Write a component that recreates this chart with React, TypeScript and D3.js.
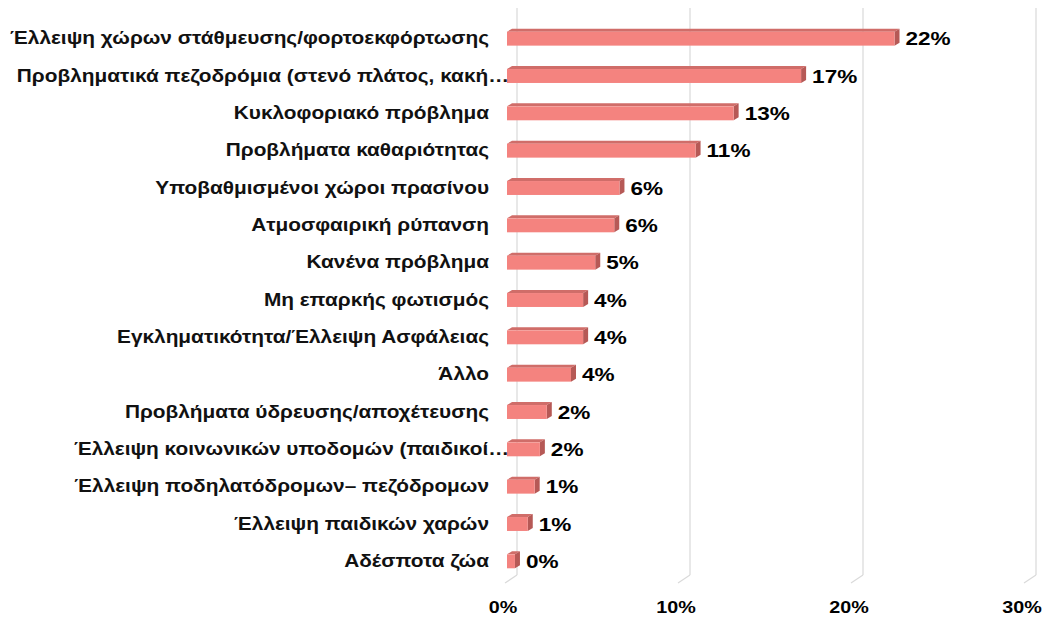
import * as d3 from "d3";

const categories = [
  "Έλλειψη χώρων στάθμευσης/φορτοεκφόρτωσης",
  "Προβληματικά πεζοδρόμια (στενό πλάτος, κακή…",
  "Κυκλοφοριακό πρόβλημα",
  "Προβλήματα καθαριότητας",
  "Υποβαθμισμένοι χώροι πρασίνου",
  "Ατμοσφαιρική ρύπανση",
  "Κανένα πρόβλημα",
  "Μη επαρκής φωτισμός",
  "Εγκληματικότητα/Έλλειψη Ασφάλειας",
  "Άλλο",
  "Προβλήματα ύδρευσης/αποχέτευσης",
  "Έλλειψη κοινωνικών υποδομών (παιδικοί…",
  "Έλλειψη ποδηλατόδρομων– πεζόδρομων",
  "Έλλειψη παιδικών χαρών",
  "Αδέσποτα ζώα",
];

const values = [0.224, 0.17, 0.131, 0.109, 0.065, 0.062, 0.051, 0.044, 0.044, 0.037, 0.023, 0.019, 0.016, 0.012, 0.0046];
const valueLabels = ["22%", "17%", "13%", "11%", "6%", "6%", "5%", "4%", "4%", "4%", "2%", "2%", "1%", "1%", "0%"];
const tickValues = [0, 0.1, 0.2, 0.3];
const tickLabels = ["0%", "10%", "20%", "30%"];

const WIDTH = 1044;
const HEIGHT = 618;
const FONT = "'Liberation Sans', Arial, sans-serif";

const FRONT = "#f4837f";
const TOP = "#d06d69";
const SIDE = "#b65956";
const GRID = "#d9d9d9";

const App = () => {
  const xScale = d3.scaleLinear().domain([0, 0.3]).range([507, 1026]);
  const yScale = d3
    .scaleBand<string>()
    .domain(categories)
    .range([19.5, 579.5])
    .paddingInner(0.6)
    .paddingOuter(0.3);

  const bw = yScale.bandwidth();
  const depthX = 5;
  const depthY = 3;
  const wallX = 10;
  const floorY = 575;

  return (
    <svg
      width={WIDTH}
      height={HEIGHT}
      style={{ position: "absolute", left: 0, top: 0, background: "white" }}
      fontFamily={FONT}
    >
      {tickValues.map((t) => {
        const gx = xScale(t) + wallX;
        return (
          <g key={`grid-${t}`}>
            <line x1={gx} x2={gx} y1={8} y2={floorY} stroke={GRID} strokeWidth={1.2} />
            <line x1={gx} x2={gx - 12} y1={floorY} y2={floorY + 8} stroke={GRID} strokeWidth={1.2} />
          </g>
        );
      })}

      {categories.map((c, i) => {
        const y = (yScale(c) ?? 0) + 1;
        const x0 = xScale(0);
        const x1 = xScale(values[i]);
        const h = bw - 1;
        return (
          <g key={c}>
            <polygon
              points={`${x0},${y} ${x0 + depthX},${y - depthY} ${x1 + depthX},${y - depthY} ${x1},${y}`}
              fill={TOP}
            />
            <polygon
              points={`${x1},${y} ${x1 + depthX},${y - depthY} ${x1 + depthX},${y + h - depthY} ${x1},${y + h}`}
              fill={SIDE}
            />
            <rect x={x0} y={y} width={Math.max(0, x1 - x0)} height={h} fill={FRONT} />
          </g>
        );
      })}

      {categories.map((c, i) => {
        const cy = (yScale(c) ?? 0) + bw / 2;
        const truncated = c.endsWith("…");
        const lx = truncated ? 509 : 489;
        return (
          <g key={`lab-${c}`}>
            <text
              transform={`translate(${lx},${cy + 6}) scale(1.19,1)`}
              textAnchor="end"
              fontSize={17.5}
              fontWeight="bold"
              fill="#111"
            >
              {c}
            </text>
            <text
              transform={`translate(${xScale(values[i]) + 11},${cy + 7}) scale(1.22,1)`}
              fontSize={18.5}
              fontWeight="bold"
              fill="#000"
            >
              {valueLabels[i]}
            </text>
          </g>
        );
      })}

      {tickValues.map((t, i) => (
        <text
          key={`tick-${t}`}
          transform={`translate(${xScale(t) - 4},${613}) scale(1.16,1)`}
          textAnchor="middle"
          fontSize={17}
          fontWeight="bold"
          fill="#000"
        >
          {tickLabels[i]}
        </text>
      ))}
    </svg>
  );
};

export default App;
